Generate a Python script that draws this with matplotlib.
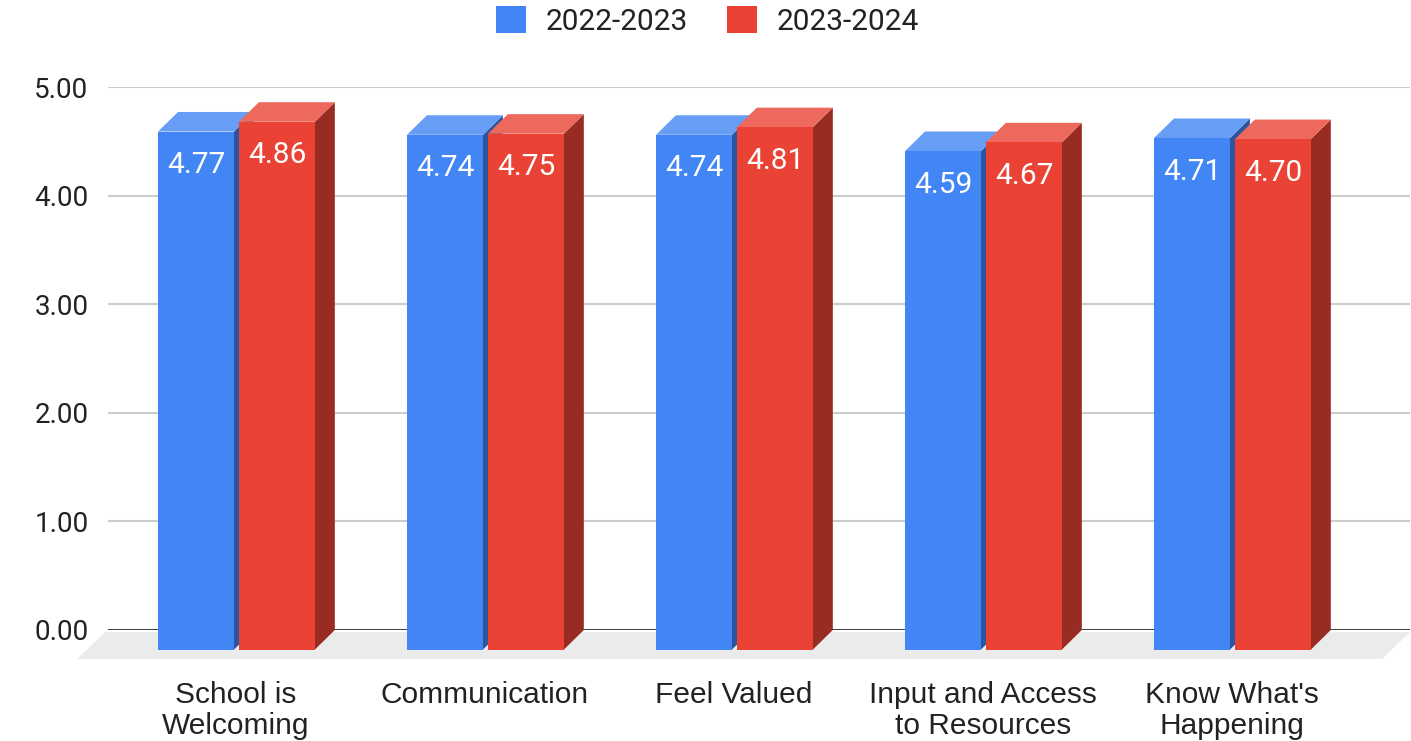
import matplotlib.pyplot as plt
import numpy as np
from matplotlib.patches import Polygon, Patch

categories = ["School is\nWelcoming", "Communication", "Feel Valued",
              "Input and Access\nto Resources", "Know What's\nHappening"]
series_names = ["2022-2023", "2023-2024"]
scores_2022 = [4.77, 4.74, 4.74, 4.59, 4.71]
scores_2023 = [4.86, 4.75, 4.81, 4.67, 4.70]
y_ticks = [0, 1, 2, 3, 4, 5]

FRONT = ["#4285F4", "#EA4335"]
TOP = ["#689DF6", "#EE695D"]
SIDE = ["#2B569F", "#982C22"]

# depth of the fake 3d extrusion, in data units
DX, DY = 0.080, 0.180
FLOOR_DX, FLOOR_DY = 0.112, 0.267
BAR_W = 0.305
OFFSETS = [-0.313, 0.012]

fig = plt.figure(figsize=(14.11, 7.41), dpi=100)
ax = fig.add_axes([108 / 1411, 111 / 741, 1302 / 1411, 543 / 741])
xlim = (-0.594, 4.635)
ax.set_xlim(*xlim)
ax.set_ylim(0, 5)
for s in ax.spines.values():
    s.set_visible(False)
ax.set_xticks([])
ax.set_yticks(y_ticks)
ax.set_yticklabels([f"{t:.2f}" for t in y_ticks], fontsize=20,
                   family="Roboto", color="#222222")
ax.tick_params(axis="y", length=0, pad=14)
ax.grid(axis="y", color="#CCCCCC", linewidth=1.5, zorder=0)
ax.set_axisbelow(True)

# floor
floor = Polygon([(xlim[0] - 0.012, -0.02), (xlim[1], -0.02),
                 (xlim[1] - FLOOR_DX, -FLOOR_DY), (xlim[0] - FLOOR_DX - 0.012, -FLOOR_DY)],
                closed=True, facecolor="#EBEBEB", edgecolor="none",
                clip_on=False, zorder=1)
ax.add_patch(floor)
ax.axhline(0, color="#333333", linewidth=2, zorder=2)


def draw_bar(x0, h, k, z):
    x1 = x0 + BAR_W
    fx0, fx1, fh, fb = x0 - DX, x1 - DX, h - DY, -DY
    side = Polygon([(fx1, fb), (x1, 0), (x1, h), (fx1, fh)], closed=True,
                   facecolor=SIDE[k], edgecolor="none", clip_on=False, zorder=z)
    top = Polygon([(fx0, fh), (fx1, fh), (x1, h), (x0, h)], closed=True,
                  facecolor=TOP[k], edgecolor="none", clip_on=False, zorder=z)
    front = Polygon([(fx0, fb), (fx1, fb), (fx1, fh), (fx0, fh)], closed=True,
                    facecolor=FRONT[k], edgecolor="none", clip_on=False, zorder=z + 0.5)
    for p in (side, top, front):
        ax.add_patch(p)
    ax.text((fx0 + fx1) / 2, fh - 0.31, f"{h:.2f}", ha="center", va="center",
            color="white", fontsize=21.5, family="Roboto", zorder=z + 1)


for i in range(len(categories)):
    for k, vals in enumerate([scores_2022, scores_2023]):
        draw_bar(i + OFFSETS[k], vals[i], k, 3 + i * 4 + k * 2)
    ax.text(i - DX, -0.47, categories[i], ha="center", va="top",
            fontsize=21.5, family="Liberation Sans", color="#222222",
            linespacing=1.12)

handles = [Patch(facecolor=FRONT[k], edgecolor="none", label=series_names[k]) for k in range(2)]
fig.legend(handles=handles, loc="upper center", bbox_to_anchor=(0.5015, 1.028), ncol=2,
           frameon=False, prop={"family": "Roboto", "size": 21.5},
           handlelength=1.0, handleheight=1.0, handletextpad=0.66,
           columnspacing=1.33, labelcolor="#222222")

fig.savefig("out.png", dpi=100)
